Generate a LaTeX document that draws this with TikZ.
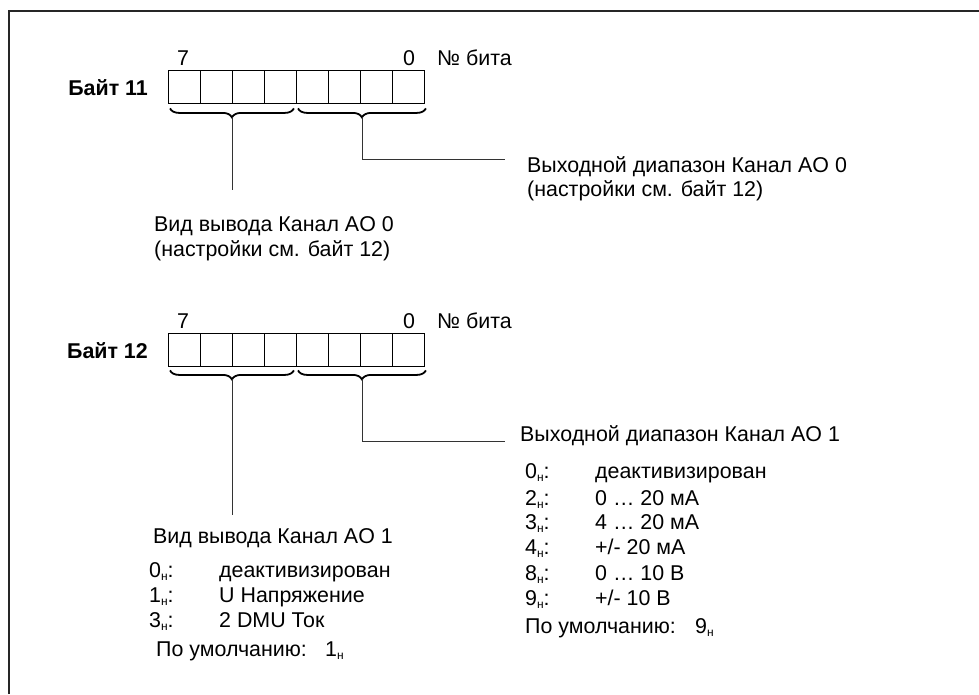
\documentclass[tikz,border=0pt]{standalone}
\usepackage{fontspec}
\setmainfont{Liberation Sans}
\usetikzlibrary{decorations.pathreplacing}
\newcommand{\hs}{\raisebox{-0.35ex}{\fontsize{12}{12}\selectfont н}}
\begin{document}
\begin{tikzpicture}[x=1pt,y=-1pt,
  txt/.style={anchor=base west,inner sep=0pt,font=\fontsize{21.4}{25}\selectfont},
  lbl/.style={anchor=base east,inner sep=0pt,font=\fontsize{21.4}{25}\selectfont\bfseries},
  cell/.style={draw,line width=0.9pt,minimum width=32pt,minimum height=32.5pt,inner sep=0pt,anchor=north west},
  brc/.style={decorate,decoration={brace,mirror,amplitude=9pt},line width=1.8pt},
  conn/.style={line width=0.8pt,draw=black!80}]
\useasboundingbox (0,0) rectangle (979,694);
\draw[line width=2pt,black!85] (9,694) -- (9,11) -- (979,11);
% Byte 11
\foreach \i in {0,...,7}{\node[cell] (a\i) at ({168+32*\i},70) {};}
\node[lbl] (b11) at (148,95) {Байт 11};
\node[txt,anchor=base] (a7l) at (183,65) {7};
\node[txt,anchor=base] (a0l) at (409,65) {0};
\node[txt] (abit) at (437,65) {№ бита};
\draw[brc] ([xshift=2pt,yshift=-5pt]a0.south west) -- ([xshift=-3pt,yshift=-5pt]a3.south east) coordinate[midway,yshift=-9pt] (abl);
\draw[brc] ([xshift=2pt,yshift=-5pt]a4.south west) -- ([xshift=1pt,yshift=-5pt]a7.south east) coordinate[midway,yshift=-9pt] (abr);
\coordinate (al) at (abl |- 0,190);
\coordinate (ar1) at (abr |- 0,159);
\coordinate (ar2) at (505,159);
\draw[conn] (abl) -- (al);
\draw[conn] (abr) -- (ar1) -- (ar2);
\node[txt] (at1) at (527,172) {Выходной диапазон Канал AO 0};
\node[txt] (at2) at (527,196) {(настройки см. байт 12)};
\node[txt] (al1) at (154,231) {Вид вывода Канал AO 0};
\node[txt] (al2) at (154,256) {(настройки см. байт 12)};
% Byte 12
\foreach \i in {0,...,7}{\node[cell] (c\i) at ({168+32*\i},333) {};}
\node[lbl] (b12) at (148,358) {Байт 12};
\node[txt,anchor=base] (c7l) at (183,328) {7};
\node[txt,anchor=base] (c0l) at (409,328) {0};
\node[txt] (cbit) at (437,328) {№ бита};
\draw[brc] ([xshift=2pt,yshift=-4pt]c0.south west) -- ([xshift=-3pt,yshift=-4pt]c3.south east) coordinate[midway,yshift=-9pt] (cbl);
\draw[brc] ([xshift=2pt,yshift=-4pt]c4.south west) -- ([xshift=1pt,yshift=-4pt]c7.south east) coordinate[midway,yshift=-9pt] (cbr);
\coordinate (cl) at (cbl |- 0,515);
\coordinate (cr1) at (cbr |- 0,441);
\coordinate (cr2) at (505,441);
\draw[conn] (cbl) -- (cl);
\draw[conn] (cbr) -- (cr1) -- (cr2);
\node[txt] (ct) at (520,441.5) {Выходной диапазон Канал AO 1};
\node[txt] (r0k) at (525,478) {0\hs:};  \node[txt] (r0v) at (595,478) {деактивизирован};
\node[txt] (r2k) at (525,505) {2\hs:};  \node[txt] (r2v) at (595,505) {0 … 20 мА};
\node[txt] (r3k) at (525,529) {3\hs:};  \node[txt] (r3v) at (595,529) {4 … 20 мА};
\node[txt] (r4k) at (525,554) {4\hs:};  \node[txt] (r4v) at (595,554) {+/- 20 мА};
\node[txt] (r8k) at (525,580) {8\hs:};  \node[txt] (r8v) at (595,580) {0 … 10 В};
\node[txt] (r9k) at (525,605) {9\hs:};  \node[txt] (r9v) at (595,605) {+/- 10 В};
\node[txt] (rd) at (525,633) {По умолчанию:};
\node[txt] (rdv) at (695,633) {9\hs};
\node[txt] (lt) at (153,543) {Вид вывода Канал AO 1};
\node[txt] (l0k) at (149,577) {0\hs:};  \node[txt] (l0v) at (219,577) {деактивизирован};
\node[txt] (l1k) at (149,602) {1\hs:};  \node[txt] (l1v) at (219,602) {U Напряжение};
\node[txt] (l3k) at (149,627) {3\hs:};  \node[txt] (l3v) at (219,627) {2 DMU Ток};
\node[txt] (ld) at (156,656) {По умолчанию:};
\node[txt] (ldv) at (325,656) {1\hs};
\end{tikzpicture}
\end{document}
